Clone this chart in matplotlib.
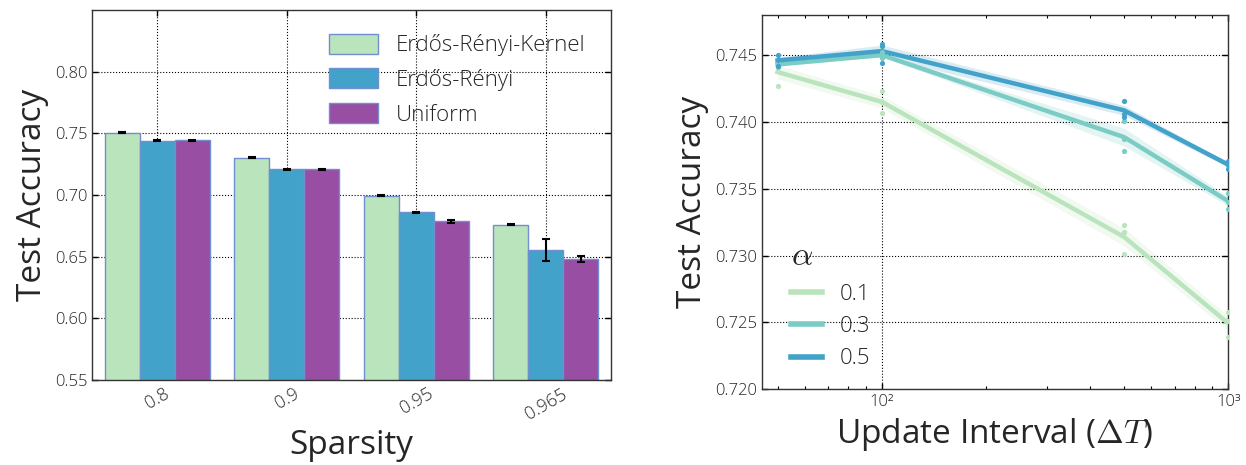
import numpy as np
import matplotlib
matplotlib.use("Agg")
import matplotlib.pyplot as plt
from matplotlib.lines import Line2D

plt.rcParams['font.family'] = ['Open Sans', 'DejaVu Sans']
plt.rcParams['font.weight'] = 'light'
plt.rcParams['mathtext.fontset'] = 'cm'
plt.rcParams['text.color'] = '#262626'
plt.rcParams['xtick.labelcolor'] = '#262626'
plt.rcParams['ytick.labelcolor'] = '#262626'
plt.rcParams['axes.labelcolor'] = '#262626'

# ---------------- data: left panel ----------------
sparsity_labels = ["0.8", "0.9", "0.95", "0.965"]
method_names = ["Erdős-Rényi-Kernel", "Erdős-Rényi", "Uniform"]
acc_erk = [0.7505, 0.7303, 0.6995, 0.6759]
acc_er = [0.7438, 0.7208, 0.6862, 0.6551]
acc_uniform = [0.7443, 0.7208, 0.6786, 0.6481]
err_erk = [0.0005, 0.0005, 0.0007, 0.0003]
err_er = [0.0004, 0.0006, 0.0004, 0.0090]
err_uniform = [0.0004, 0.0004, 0.0012, 0.0024]
bar_colors = ["#bae4bc", "#43a2ca", "#984ea3"]

# ---------------- data: right panel ----------------
update_intervals = [50, 100, 500, 1000]
alpha_labels = ["0.1", "0.3", "0.5"]
runs_alpha_01 = [[0.7443, 0.7442, 0.7427], [0.7423, 0.7415, 0.7407],
                 [0.7323, 0.7318, 0.7301], [0.7258, 0.7251, 0.7239]]
runs_alpha_03 = [[0.7445, 0.7443, 0.7441], [0.7452, 0.7450, 0.7448],
                 [0.7401, 0.7387, 0.7378], [0.7347, 0.7340, 0.7335]]
runs_alpha_05 = [[0.7450, 0.7446, 0.7442], [0.7458, 0.7457, 0.7444],
                 [0.7416, 0.7406, 0.7404], [0.7371, 0.7368, 0.7365]]
line_colors = ["#bae4bc", "#7bccc4", "#43a2ca"]

fig = plt.figure(figsize=(12.46, 4.65), dpi=100)
ax1 = fig.add_axes([0.0741, 0.1828, 0.4161, 0.7957])
ax2 = fig.add_axes([0.6113, 0.1628, 0.3745, 0.8050])

# ---------------- left: grouped bars ----------------
x = np.arange(len(sparsity_labels))
w = 0.27
series = [(acc_erk, err_erk), (acc_er, err_er), (acc_uniform, err_uniform)]
for i, ((vals, errs), name, col) in enumerate(zip(series, method_names, bar_colors)):
    ax1.bar(x + (i - 1) * w, vals, w, color=col, edgecolor="#6f8fd0", linewidth=1.0,
            label=name, zorder=2)
    ax1.errorbar(x + (i - 1) * w, vals, yerr=errs, fmt="none", ecolor="black",
                 elinewidth=1.5, capsize=3, capthick=1.5, zorder=3)
ax1.set_xlim(-0.5, 3.5)
ax1.set_ylim(0.55, 0.85)
ax1.set_yticks([0.55, 0.60, 0.65, 0.70, 0.75, 0.80])
ax1.set_yticklabels(["0.55", "0.60", "0.65", "0.70", "0.75", "0.80"])
ax1.set_xticks(x)
ax1.set_xticklabels(sparsity_labels, rotation=30, fontsize=13)
ax1.set_xlabel("Sparsity", fontsize=24)
ax1.set_ylabel("Test Accuracy", fontsize=24)
ax1.grid(True, linestyle=":", color="black", linewidth=0.8, zorder=0)
ax1.set_axisbelow(True)
ax1.legend(loc="upper right", frameon=False, fontsize=16, handlelength=2.2,
           handleheight=1.0, labelspacing=0.55, bbox_to_anchor=(0.99, 0.99))

# ---------------- right: lines ----------------
for runs, lab, col in zip([runs_alpha_01, runs_alpha_03, runs_alpha_05], alpha_labels, line_colors):
    r = np.array(runs)
    m = r.mean(axis=1)
    sem = r.std(axis=1, ddof=1) / np.sqrt(r.shape[1])
    ax2.fill_between(update_intervals, m - sem, m + sem, color=col, alpha=0.2, linewidth=0)
    ax2.plot(update_intervals, m, color=col, linewidth=3.2, label=lab, zorder=3)
    for k, xv in enumerate(update_intervals):
        ax2.scatter([xv] * r.shape[1], r[k], s=14, color=col, zorder=4, linewidths=0)
ax2.set_xscale("log")
ax2.set_xlim(45, 1000)
ax2.set_ylim(0.720, 0.748)
ax2.set_yticks([0.720, 0.725, 0.730, 0.735, 0.740, 0.745])
ax2.set_yticklabels(["0.720", "0.725", "0.730", "0.735", "0.740", "0.745"])
ax2.set_xticks([100, 1000])
ax2.set_xticklabels(["10²", "10³"])
ax2.set_xlabel(r"Update Interval ($\Delta T$)", fontsize=24)
ax2.set_ylabel("Test Accuracy", fontsize=24)
ax2.grid(True, which="major", linestyle=":", color="black", linewidth=0.8)
handles = [Line2D([0], [0], color=c, linewidth=4) for c in line_colors]
leg = ax2.legend(handles, alpha_labels, title=r"$\alpha$", loc="lower left",
                 frameon=False, fontsize=16, title_fontsize=24, handlelength=1.4,
                 labelspacing=0.5, bbox_to_anchor=(0.02, 0.0))
leg._legend_box.align = "left"

for ax in (ax1, ax2):
    ax.tick_params(which="both", direction="in", top=True, right=True)
    ax.tick_params(axis="y", labelsize=12)
    ax.tick_params(which="major", length=4, width=1)
    ax.tick_params(which="minor", length=2.5, width=0.8)
    for s in ax.spines.values():
        s.set_color("#333333")
        s.set_linewidth(1.0)
ax2.tick_params(axis="x", labelsize=12)

fig.savefig("out.png", dpi=100)
